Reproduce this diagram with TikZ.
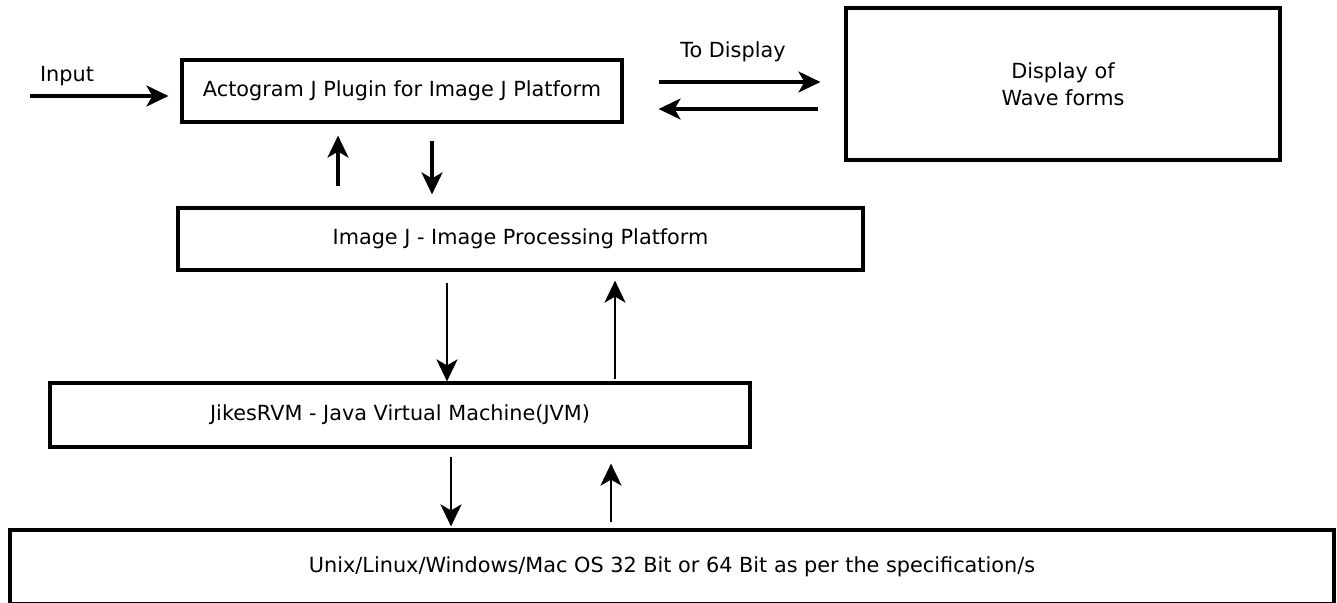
\documentclass[tikz,border=0pt]{standalone}
\usepackage{fontspec}
\setmainfont{DejaVu Sans}
\usetikzlibrary{arrows.meta}
\begin{document}
\begin{tikzpicture}[x=1pt,y=-1pt,
  box/.style={draw=black, line width=3.2pt, rectangle, inner sep=0pt, font=\fontsize{20.8}{27}\selectfont},
  lbl/.style={inner sep=0pt, font=\fontsize{20.8}{27}\selectfont},
  arr/.style={line width=3.2pt, -{Stealth[length=22pt,width=21pt,inset=6pt]}},
  arrthin/.style={arr, line width=2.7pt}]
\useasboundingbox[fill=white] (0,0) rectangle (1337,602);
\begin{scope}
\clip (0,0) rectangle (1337,602);
\node[box, minimum width=440pt, minimum height=62pt] (plug) at (402,91) {Actogram J Plugin for Image J Platform};
\node[box, minimum width=434pt, minimum height=152pt, align=center] (disp) at (1063,84) {Display of\\Wave forms};
\node[box, minimum width=685pt, minimum height=62pt] (ij) at (520.5,239) {Image J - Image Processing Platform};
\node[box, minimum width=700pt, minimum height=64pt] (jvm) at (400,415) {JikesRVM - Java Virtual Machine(JVM)};
\node[box, minimum width=1324pt, minimum height=74pt] (os) at (672,567) {Unix/Linux/Windows/Mac OS 32 Bit or 64 Bit as per the specification/s};
\end{scope}
\node[lbl] (inlbl) at (67,76) {Input};
\node[lbl] (tolbl) at (733,52) {To Display};
\coordinate (inA) at (30,96);
\draw[arr, shorten >=12pt] (inA) -- (inA -| plug.west);
% plugin <-> display
\draw[arr, shorten <=35pt, shorten >=24pt] (plug.east |- 0,82) -- (disp.west |- 0,82);
\draw[arr, shorten <=26pt, shorten >=35pt] (disp.west |- 0,109) -- (plug.east |- 0,109);
% plugin <-> imagej
\draw[arr, shorten <=20pt, shorten >=12pt] (ij.north -| 338,0) -- (plug.south -| 338,0);
\draw[arr, shorten <=17pt, shorten >=12pt] (plug.south -| 432,0) -- (ij.north -| 432,0);
% imagej <-> jvm
\draw[arrthin, shorten <=11pt, shorten >=0pt] (ij.south -| 447,0) -- (jvm.north -| 447,0);
\draw[arrthin, shorten <=2pt, shorten >=9pt] (jvm.north -| 615,0) -- (ij.south -| 615,0);
% jvm <-> os
\draw[arrthin, shorten <=8pt, shorten >=2pt] (jvm.south -| 451,0) -- (os.north -| 451,0);
\draw[arrthin, shorten <=6pt, shorten >=15pt] (os.north -| 611,0) -- (jvm.south -| 611,0);
\end{tikzpicture}
\end{document}
